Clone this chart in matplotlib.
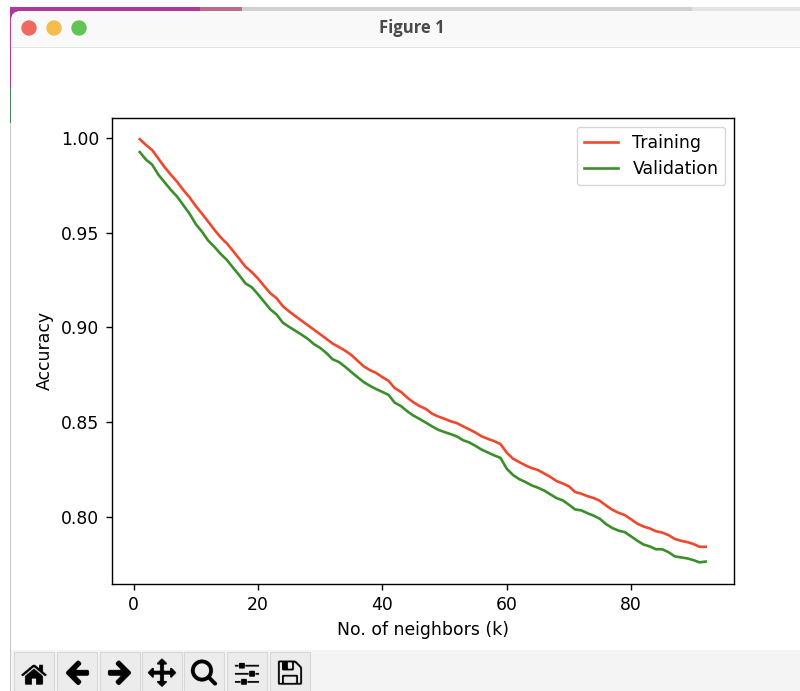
import os
import matplotlib
matplotlib.use("Agg")
import matplotlib.pyplot as plt
from matplotlib.patches import Circle, FancyBboxPatch, Rectangle

neighbors = list(range(1, 93))

training = [
    .9993, .9962, .9935, .9890, .9845, .9805, .9768, .9725, .9686, .9640,
    .9600, .9558, .9515, .9475, .9443, .9403, .9362, .9320, .9292, .9258,
    .9218, .9180, .9154, .9112, .9085, .9060, .9036, .9012, .8988, .8964,
    .8940, .8915, .8897, .8878, .8855, .8825, .8795, .8775, .8760, .8738,
    .8718, .8680, .8660, .8630, .8605, .8585, .8570, .8545, .8530, .8518,
    .8505, .8495, .8478, .8462, .8445, .8425, .8412, .8400, .8385, .8340,
    .8308, .8290, .8273, .8258, .8248, .8230, .8212, .8190, .8177, .8162,
    .8132, .8123, .8110, .8100, .8085, .8060, .8038, .8022, .8010, .7988,
    .7965, .7950, .7940, .7925, .7918, .7905, .7885, .7875, .7868, .7858,
    .7843, .7843,
]

validation = [
    .9925, .9885, .9858, .9805, .9765, .9725, .9690, .9645, .9600, .9545,
    .9505, .9458, .9425, .9388, .9356, .9315, .9275, .9232, .9212, .9175,
    .9135, .9095, .9068, .9025, .9003, .8983, .8962, .8940, .8912, .8892,
    .8865, .8832, .8818, .8793, .8765, .8738, .8712, .8692, .8675, .8660,
    .8644, .8603, .8585, .8558, .8535, .8517, .8498, .8478, .8460, .8448,
    .8437, .8425, .8405, .8393, .8375, .8355, .8340, .8325, .8312, .8255,
    .8222, .8200, .8185, .8167, .8155, .8140, .8120, .8100, .8088, .8065,
    .8040, .8035, .8020, .8007, .7990, .7962, .7942, .7928, .7920, .7898,
    .7875, .7855, .7845, .7830, .7830, .7815, .7793, .7787, .7782, .7773,
    .7761, .7765,
]

toolbar_icons = ["home_large.png", "back_large.png", "forward_large.png", "move_large.png",
                 "zoom_to_rect_large.png", "subplots_large.png", "filesave_large.png"]
toolbar_left = [14, 57, 100, 142, 184, 227, 270]

W, H = 800, 691


def px_axes(fig, x0, y0, x1, y1):
    # axes from pixel box, y measured from the top
    return fig.add_axes([x0 / W, 1 - y1 / H, (x1 - x0) / W, (y1 - y0) / H])


def draw_window(fig):
    bg = fig.add_axes([0, 0, 1, 1], zorder=0)
    bg.set_xlim(0, W)
    bg.set_ylim(H, 0)
    bg.axis("off")

    # desktop behind the window
    bg.add_patch(Rectangle((10, 7), 190, 8, color="#b0389a", lw=0))
    bg.add_patch(Rectangle((200, 7), 42, 8, color="#bc6c88", lw=0))
    bg.add_patch(Rectangle((242, 7), 450, 8, color="#d2d0d2", lw=0))
    bg.add_patch(Rectangle((692, 7), 108, 8, color="#e4e4e4", lw=0))
    bg.add_patch(Rectangle((10, 10), 6, 78, color="#b0389a", lw=0))
    bg.add_patch(Rectangle((10, 88), 6, 35, color="#3c8a5a", lw=0))
    bg.add_patch(Rectangle((10, 123), 6, 568, color="#c8c8c8", lw=0))

    # window body, title bar, toolbar
    bg.add_patch(FancyBboxPatch((11, 11), 800, 700, boxstyle="round,pad=0,rounding_size=10",
                                fc="white", ec="none"))
    bg.add_patch(FancyBboxPatch((11, 11), 800, 60, boxstyle="round,pad=0,rounding_size=10",
                                fc="#f9f9f9", ec="none"))
    bg.add_patch(Rectangle((11, 46), 789, 604, color="white", lw=0))
    bg.plot([11, 800], [46.5, 46.5], color="#e2e2e2", lw=0.8)
    bg.add_patch(Rectangle((11, 650), 789, 41, color="#f4f4f4", lw=0))

    for cx, c in zip([29, 54, 79], ["#ee6a5f", "#f5bd4f", "#61c454"]):
        bg.add_patch(Circle((cx, 28), 7.7, color=c, lw=0))
    bg.text(412, 28, "Figure 1", ha="center", va="center", fontsize=12, fontweight="bold",
            color="#4a4a4a", family="Open Sans")

    # toolbar buttons with matplotlib's own icons
    image_dir = os.path.join(matplotlib.get_data_path(), "images")
    for left, name in zip(toolbar_left, toolbar_icons):
        bg.add_patch(Rectangle((left, 652), 39.5, 39, fc="#ececec", ec="#d8d8d8", lw=0.8))
        ax_icon = px_axes(fig, left + 5, 657, left + 35, 687)
        ax_icon.imshow(plt.imread(os.path.join(image_dir, name)))
        ax_icon.axis("off")


def main():
    fig = plt.figure(figsize=(W / 100, H / 100), dpi=100, facecolor="white")
    draw_window(fig)

    ax = px_axes(fig, 111.5, 118, 734, 583.5)
    ax.plot(neighbors, training, color="#f0482c", lw=1.9, label="Training")
    ax.plot(neighbors, validation, color="#3a8f2a", lw=1.9, label="Validation")
    ax.set_xlabel("No. of neighbors (k)", fontsize=12.4, labelpad=5)
    ax.set_ylabel("Accuracy", fontsize=12.4, labelpad=5)
    ax.tick_params(labelsize=12.4, width=1, length=4.4, pad=4.4)
    for s in ax.spines.values():
        s.set_linewidth(1)
    ax.legend(loc="upper right", fontsize=12.5)

    fig.savefig("out.png", dpi=100)


if __name__ == "__main__":
    main()
